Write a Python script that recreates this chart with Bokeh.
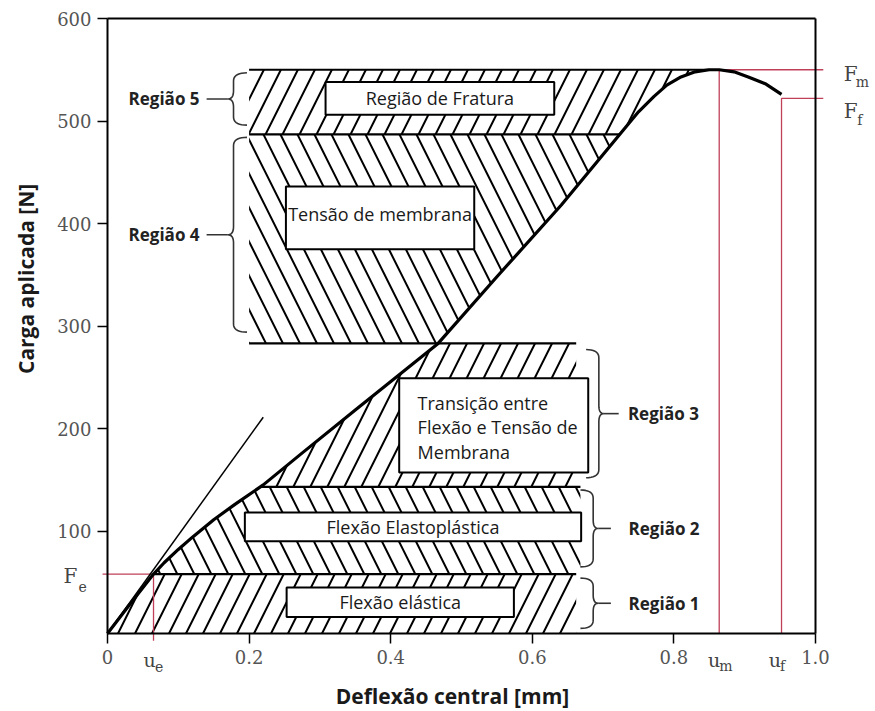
import numpy as np
from bokeh.plotting import figure
from bokeh.models import Label, Range1d, FixedTicker, LinearAxis
from bokeh.embed import file_html
from bokeh.resources import INLINE
from bokeh.core.properties import value

# ---------------- data ----------------
curve_x = [0.0, 0.03, 0.065, 0.08, 0.10, 0.12, 0.15, 0.18, 0.22, 0.273, 0.35, 0.467, 0.55, 0.641,
           0.726, 0.75, 0.772, 0.79, 0.81, 0.83, 0.85, 0.864, 0.885, 0.905, 0.93, 0.952]
curve_y = [0, 27, 58, 69, 82, 94, 111, 126, 145, 175, 218, 283, 348, 418,
           489, 509, 524, 535, 543, 548, 550, 550, 548, 543, 536, 526]
tangent_x = [0.0, 0.22]
tangent_y = [0, 211]
u_e, F_e = 0.065, 58
u_m, F_m = 0.864, 550
u_f, F_f = 0.952, 522

region_bounds = [0, 58, 143, 283, 487, 550]
region_names = ["Região 1", "Região 2", "Região 3", "Região 4", "Região 5"]
region_hatch = ["/", "\\", "/", "\\", "/"]
region_right = [0.662, 0.668, 0.662, None, None]
region_left = [None, None, None, 0.2, 0.2]

box_texts = ["Flexão elástica", "Flexão Elastoplástica",
             "Transição entre\nFlexão e Tensão de\nMembrana",
             "Tensão de membrana", "Região de Fratura"]
box_left = [0.253, 0.194, 0.412, 0.252, 0.308]
box_right = [0.574, 0.669, 0.679, 0.518, 0.631]
box_bottom = [16, 90, 157, 375, 506]
box_top = [45, 118, 249, 436, 538]

x_ticks = [0, 0.2, 0.4, 0.6, 0.8, 1.0]
x_tick_labels = ["0", "0.2", "0.4", "0.6", "0.8", "1.0"]
y_ticks = [100, 200, 300, 400, 500, 600]
y_tick_labels = ["100", "200", "300", "400", "500", "600"]

X_MIN, X_MAX = 0.0, 1.0
Y_MIN, Y_MAX = 0, 600

# ---------------- layout (pixels) ----------------
W, H = 875, 711
FL, FR, FT, FB = 107, 815, 18, 633          # where the axes box sits on the page
sx = (FR - FL) / (X_MAX - X_MIN)
sy = (FB - FT) / (Y_MAX - Y_MIN)
xr = Range1d(X_MIN - FL / sx, X_MAX + (W - FR) / sx)
yr = Range1d(Y_MIN - (H - FB) / sy, Y_MAX + FT / sy)

p = figure(width=W, height=H, x_range=xr, y_range=yr, min_border=0,
           output_backend="svg", toolbar_location=None,
           background_fill_color="white", border_fill_color="white")
p.grid.visible = False
p.outline_line_color = None

for ax, ticks, labels, loc, bnd in ((p.xaxis[0], x_ticks, x_tick_labels, Y_MIN, (X_MIN, X_MAX)),
                                    (p.yaxis[0], y_ticks, y_tick_labels, X_MIN, (Y_MIN, Y_MAX))):
    ax.ticker = FixedTicker(ticks=ticks)
    ax.major_label_overrides = {t: l for t, l in zip(ticks, labels)}
    ax.fixed_location = loc
    ax.bounds = bnd
    ax.axis_line_width = 2
    ax.axis_line_color = "black"
    ax.major_tick_out = 10
    ax.major_tick_in = 0
    ax.minor_tick_out = 0
    ax.minor_tick_in = 0
    ax.major_tick_line_width = 1.5
    ax.major_label_text_font = "DejaVu Serif"
    ax.major_label_text_font_size = "18px"
    ax.major_label_text_color = "#555555"
    ax.major_label_standoff = 6

top_ax = LinearAxis(fixed_location=Y_MAX, bounds=(X_MIN, X_MAX), ticker=FixedTicker(ticks=[]),
                    axis_line_width=2, major_tick_out=0, minor_tick_out=0)
right_ax = LinearAxis(fixed_location=X_MAX, bounds=(Y_MIN, Y_MAX), ticker=FixedTicker(ticks=[]),
                      axis_line_width=2, major_tick_out=0, minor_tick_out=0)
p.add_layout(top_ax, "above")
p.add_layout(right_ax, "right")

cx = np.array(curve_x, dtype=float)
cy = np.array(curve_y, dtype=float)
ipk = int(np.argmax(cy))
rx, ry = cx[: ipk + 1], cy[: ipk + 1]


def x_on_curve(y):
    return float(np.interp(y, ry, rx))


# hatched regions
for i in range(5):
    lo, hi = region_bounds[i], region_bounds[i + 1]
    mask = (ry > lo) & (ry < hi)
    seg_x = [x_on_curve(lo)] + list(rx[mask]) + [x_on_curve(hi)]
    seg_y = [lo] + list(ry[mask]) + [hi]
    if region_right[i] is not None:
        px = seg_x + [region_right[i], region_right[i]]
        py = seg_y + [hi, lo]
    else:
        px = [region_left[i]] + seg_x + [region_left[i]]
        py = [lo] + seg_y + [hi]
    p.patch(px, py, fill_color=None, line_color=None, hatch_pattern=region_hatch[i],
            hatch_color="black", hatch_scale=34, hatch_weight=2)

# region boundary lines
bl = [(x_on_curve(region_bounds[1]), region_right[0]),
      (x_on_curve(region_bounds[2]), region_right[1]),
      (region_left[3], region_right[2]),
      (region_left[4], x_on_curve(region_bounds[4])),
      (region_left[4], x_on_curve(region_bounds[5]))]
for (x0, x1), yb in zip(bl, region_bounds[1:]):
    p.line([x0, x1], [yb, yb], line_color="black", line_width=2.2)

# red reference lines
red = "#c0405a"
p.line([-0.007, u_e, u_e], [F_e, F_e, -7], line_color=red, line_width=1.3)
p.line([1.011, u_m, u_m], [F_m, F_m, 0], line_color=red, line_width=1.3)
p.line([1.011, u_f, u_f], [F_f, F_f, 0], line_color=red, line_width=1.3)

# curves
p.line(tangent_x, tangent_y, line_color="black", line_width=1.5)
p.line(curve_x, curve_y, line_color="black", line_width=3.2, line_join="round")

# boxes and texts
p.quad(left=box_left, right=box_right, bottom=box_bottom, top=box_top,
       fill_color="white", line_color="black", line_width=2)
for i, t in enumerate(box_texts):
    lines = t.split("\n")
    if len(lines) == 1:
        xc = (box_left[i] + box_right[i]) / 2
        yc = (box_bottom[i] + box_top[i]) / 2
        if i == 3:
            yc = 409
        p.text(x=[xc], y=[yc], text=[t], text_font=value("Open Sans"), text_font_size="18px",
               text_align="center", text_baseline="middle", text_color="#1a1a1a")
    else:
        for k, ln in enumerate(lines):
            p.text(x=[0.438], y=[225 - 24 * k], text=[ln], text_font=value("Open Sans"),
                   text_font_size="18px", text_align="left", text_baseline="middle",
                   text_color="#1a1a1a")


# braces
def qb(p0, p1, p2, n=10):
    t = np.linspace(0, 1, n)
    return ((1 - t) ** 2 * p0[0] + 2 * (1 - t) * t * p1[0] + t ** 2 * p2[0],
            (1 - t) ** 2 * p0[1] + 2 * (1 - t) * t * p1[1] + t ** 2 * p2[1])


def brace(x_arm, x_mid, x_tip, y0, y1, r=8):
    ym = (y0 + y1) / 2
    segs = [((x_arm, y1), (x_mid, y1), (x_mid, y1 - r)),
            ((x_mid, ym + r), (x_mid, ym), (x_tip, ym)),
            ((x_tip, ym), (x_mid, ym), (x_mid, ym - r)),
            ((x_mid, y0 + r), (x_mid, y0), (x_arm, y0))]
    xs, ys = [], []
    for s in segs:
        a, b = qb(*s)
        xs += list(a)
        ys += list(b)
    return xs, ys, ym


brace_specs = [
    (0.668, 0.686, 0.693, 5, 54, 0.711, 0.736, "left"),
    (0.668, 0.686, 0.693, 65, 140, 0.711, 0.736, "left"),
    (0.676, 0.694, 0.701, 152, 277, 0.722, 0.735, "left"),
    (0.197, 0.178, 0.170, 294, 484, 0.140, 0.130, "right"),
    (0.197, 0.178, 0.170, 496, 547, 0.140, 0.130, "right"),
]
for i, (xa, xm, xt, y0, y1, xd, xl, al) in enumerate(brace_specs):
    bx, by, ym = brace(xa, xm, xt, y0, y1)
    p.line(bx, by, line_color="#333333", line_width=1.6)
    p.line([xt, xd], [ym, ym], line_color="#333333", line_width=1.6)
    p.text(x=[xl], y=[ym], text=[region_names[i]], text_font=value("Open Sans"),
           text_font_size="17px", text_font_style="bold", text_align=al,
           text_baseline="middle", text_color="#222222")

# math labels
serif = "DejaVu Serif"
math_labels = [
    ("F", -0.062, 56, "20px"), ("e", -0.041, 46, "14px"),
    ("F", 1.040, 546, "20px"), ("m", 1.057, 538, "14px"),
    ("F", 1.040, 510, "20px"), ("f", 1.059, 501, "14px"),
    ("u", 0.051, -26, "19px"), ("e", 0.067, -32, "14px"),
    ("u", 0.848, -26, "19px"), ("m", 0.864, -32, "14px"),
    ("u", 0.934, -26, "19px"), ("f", 0.950, -32, "14px"),
]
for t, x, y, fs in math_labels:
    p.add_layout(Label(x=x, y=y, text=t, text_font=serif, text_font_size=fs,
                       text_color="#444444", text_baseline="alphabetic", text_align="left"))

# axis titles
p.add_layout(Label(x=-0.1158, y=346, text="Carga aplicada [N]", angle=np.pi / 2,
                   text_font="Open Sans", text_font_size="21px", text_font_style="bold",
                   text_align="center", text_baseline="middle", text_color="#1a1a1a"))
p.add_layout(Label(x=0.4873, y=-61, text="Deflexão central [mm]",
                   text_font="Open Sans", text_font_size="21px", text_font_style="bold",
                   text_align="center", text_baseline="middle", text_color="#1a1a1a"))

open("out.html", "w").write(file_html(p, INLINE))
